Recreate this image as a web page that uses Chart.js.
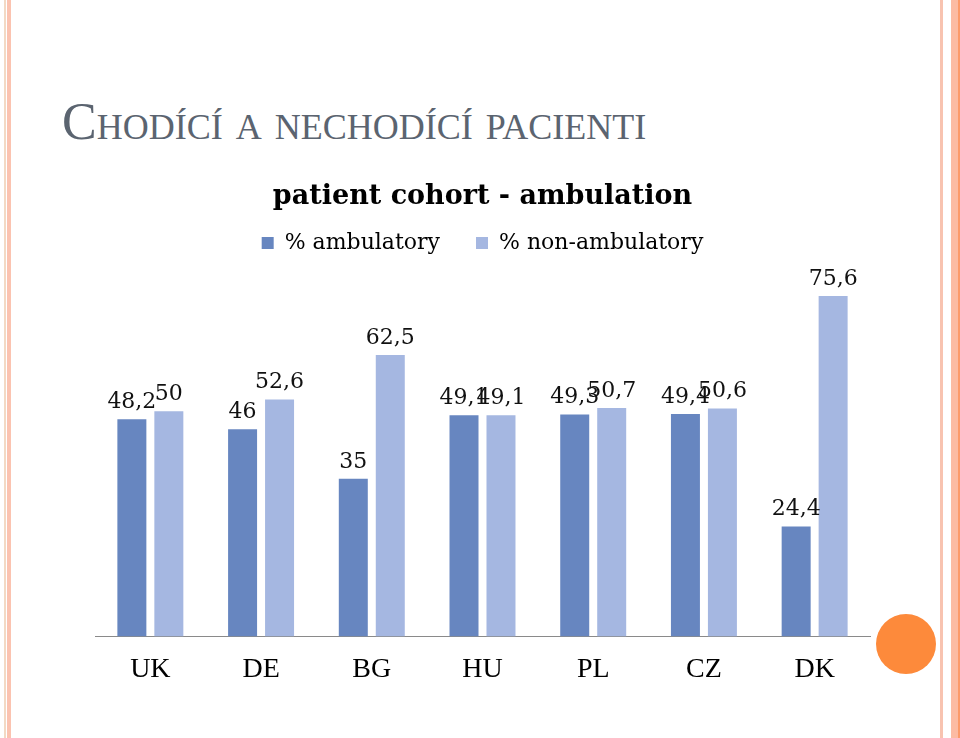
<!DOCTYPE html>
<html lang="cs">
<head>
  <meta charset="UTF-8" />
  <title>Chodící a nechodící pacienti</title>
  <script src="https://cdn.jsdelivr.net/npm/chart.js@4/dist/chart.umd.min.js"></script>
  <style>
    html, body { margin: 0; padding: 0; background: #fff; }
    .slide { position: relative; width: 960px; height: 738px; overflow: hidden; background: #fff; }
    .edge { position: absolute; top: 0; bottom: 0; }
    .slide-title {
      position: absolute; left: 62px; top: 92px;
      font-family: "Liberation Serif", serif; font-size: 52px; line-height: 60px;
      font-variant: small-caps; color: #5b6470; white-space: nowrap;
    }
    .dot { position: absolute; left: 876px; top: 614px; width: 60px; height: 60px; border-radius: 50%; background: #fd8a3b; }
    #chartBox { position: absolute; left: 0; top: 0; width: 960px; height: 738px; }
  </style>
</head>
<body>
  <div class="slide">
    <!-- okraje snímku -->
    <div class="edge" style="left:4px;width:2px;background:#f3d9c4"></div>
    <div class="edge" style="left:7px;width:4px;background:#fbc3b0"></div>
    <div class="edge" style="left:940px;width:3px;background:#f8c3b0"></div>
    <div class="edge" style="left:951px;width:7px;background:#fcbba3"></div>
    <div class="edge" style="left:958px;width:2px;background:#fc9a6a"></div>

    <div class="slide-title">Chodící a nechodící pacienti</div>

    <div id="chartBox"><canvas id="ambChart"></canvas></div>
    <div class="dot"></div>
  </div>

  <script>
    // data z grafu
    const countries = ["UK", "DE", "BG", "HU", "PL", "CZ", "DK"];
    const ambulatory = [48.2, 46, 35, 49.1, 49.3, 49.4, 24.4];
    const nonAmbulatory = [50, 52.6, 62.5, 49.1, 50.7, 50.6, 75.6];
    const seriesNames = ["% ambulatory", "% non-ambulatory"];

    const serif = "'DejaVu Serif', serif";

    // popisky hodnot nad sloupci (desetinná čárka)
    const valueLabels = {
      id: "valueLabels",
      afterDatasetsDraw(chart) {
        const ctx = chart.ctx;
        ctx.save();
        ctx.font = "22px " + serif;
        ctx.fillStyle = "#111";
        ctx.textAlign = "center";
        ctx.textBaseline = "bottom";
        chart.data.datasets.forEach((ds, i) => {
          chart.getDatasetMeta(i).data.forEach((bar, j) => {
            const txt = String(ds.data[j]).replace(".", ",");
            ctx.fillText(txt, bar.x, bar.y - 6);
          });
        });
        ctx.restore();
      }
    };

    const ctx = document.getElementById("ambChart").getContext("2d");
    new Chart(ctx, {
      type: "bar",
      data: {
        labels: countries,
        datasets: [
          { label: seriesNames[0], data: ambulatory, backgroundColor: "#6786c0" },
          { label: seriesNames[1], data: nonAmbulatory, backgroundColor: "#a5b7e1" }
        ]
      },
      options: {
        responsive: true,
        maintainAspectRatio: false,
        animation: false,
        categoryPercentage: 0.668,
        barPercentage: 0.784,
        layout: { padding: { left: 95, right: 90, top: 183, bottom: 44 } },
        plugins: {
          title: {
            display: true,
            text: "patient cohort - ambulation",
            color: "#000",
            font: { family: serif, size: 27, weight: "bold", lineHeight: 1 },
            padding: { top: 0, bottom: 0 }
          },
          legend: {
            display: true,
            labels: {
              color: "#000",
              font: { family: serif, size: 22 },
              boxWidth: 12, boxHeight: 12, padding: 22,
              generateLabels(chart) {
                const items = Chart.defaults.plugins.legend.labels.generateLabels(chart);
                // mezera mezi položkami legendy
                if (items[0]) items[0].text += "  ";
                return items;
              }
            }
          },
          tooltip: { enabled: false }
        },
        scales: {
          x: {
            grid: { display: false },
            border: { display: true, color: "#8a8a8a", width: 1 },
            ticks: { color: "#000", font: { family: "'Liberation Serif', serif", size: 28 }, padding: 8 }
          },
          y: { display: false, min: 0, max: 82.7 }
        }
      },
      plugins: [valueLabels]
    });
  </script>
</body>
</html>
